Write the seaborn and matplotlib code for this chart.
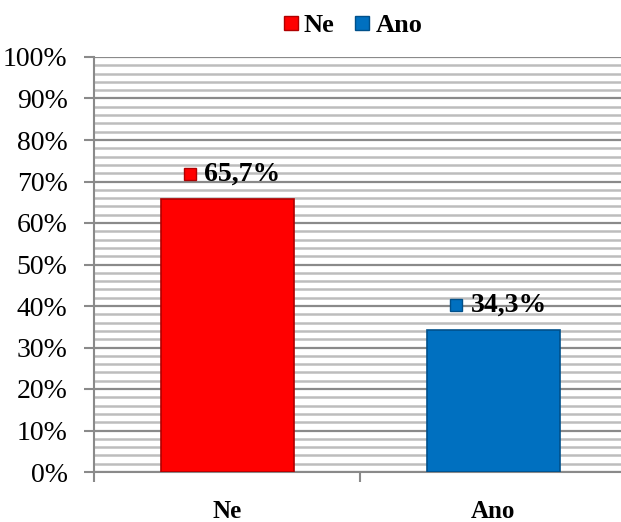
import matplotlib
matplotlib.use("Agg")
import matplotlib.pyplot as plt
from matplotlib.ticker import MultipleLocator, FuncFormatter
from matplotlib.lines import Line2D
import seaborn as sns
import pandas as pd

categories = ["Ne", "Ano"]
shares = [65.7, 34.3]
value_labels = ["65,7%", "34,3%"]
colors = ["#ff0000", "#0070c0"]
edge_colors = ["#b00000", "#00508a"]

sns.set_theme(style="white")
plt.rcParams["font.family"] = ["Liberation Serif", "DejaVu Serif"]
plt.rcParams["text.color"] = "black"
plt.rcParams["xtick.labelcolor"] = "black"
plt.rcParams["ytick.labelcolor"] = "black"

df = pd.DataFrame({"cat": categories, "share": shares})

fig = plt.figure(figsize=(6.21, 5.22), dpi=100)
ax = fig.add_axes([94 / 621, 50 / 522, 527 / 621, 415 / 522])

sns.barplot(data=df, x="cat", y="share", hue="cat", palette=colors,
            width=0.5, legend=False, ax=ax, zorder=3, saturation=1)
for patch, ec in zip(ax.patches, edge_colors):
    patch.set_edgecolor(ec)
    patch.set_linewidth(1.2)

ax.set_ylim(0, 100)
ax.set_xlim(-0.5, 1.481)
ax.yaxis.set_major_locator(MultipleLocator(10))
ax.yaxis.set_minor_locator(MultipleLocator(2))
ax.yaxis.set_major_formatter(FuncFormatter(lambda v, _: f"{v:.0f}%"))
ax.grid(axis="y", which="minor", color="#bdbdbd", linewidth=1.8, zorder=0)
ax.grid(axis="y", which="major", color="#8a8a8a", linewidth=1.6, zorder=1)
ax.set_axisbelow(True)

for side in ["top", "right"]:
    ax.spines[side].set_visible(False)
for side in ["left", "bottom"]:
    ax.spines[side].set_color("#8a8a8a")
    ax.spines[side].set_linewidth(1.5)

ax.tick_params(axis="y", which="major", direction="out", length=7, width=1.5,
               color="#8a8a8a", left=True, labelsize=20, pad=12)
ax.tick_params(axis="y", which="minor", left=False)
ax.set_xticks([0, 1])
ax.set_xticklabels(categories, fontsize=18, fontweight="bold")
ax.tick_params(axis="x", length=0, pad=20)
# category separators on the x axis
ax.set_xticks([-0.5, 0.5], minor=True)
ax.tick_params(axis="x", which="minor", direction="out", length=7, width=1.5,
               color="#8a8a8a", bottom=True)
ax.set_xlabel("")
ax.set_ylabel("")

for i, (v, lab, c) in enumerate(zip(shares, value_labels, colors)):
    y = v + 6
    ax.plot(i - 0.14, y, marker="s", markersize=9, color=c,
            markeredgecolor=edge_colors[i], zorder=5, clip_on=False)
    ax.text(i - 0.085, y, lab, fontsize=20, fontweight="bold",
            ha="left", va="center", zorder=5)

handles = [Line2D([], [], marker="s", linestyle="", markersize=10, color=c,
                  markeredgecolor=ec) for c, ec in zip(colors, edge_colors)]
fig.legend(handles, categories, loc="center", bbox_to_anchor=(352 / 621, 1 - 25 / 522),
           ncol=2, frameon=False, handlelength=0.7, handletextpad=0.15,
           columnspacing=0.7, prop={"size": 19, "weight": "bold"})

fig.savefig("out.png", dpi=100)
